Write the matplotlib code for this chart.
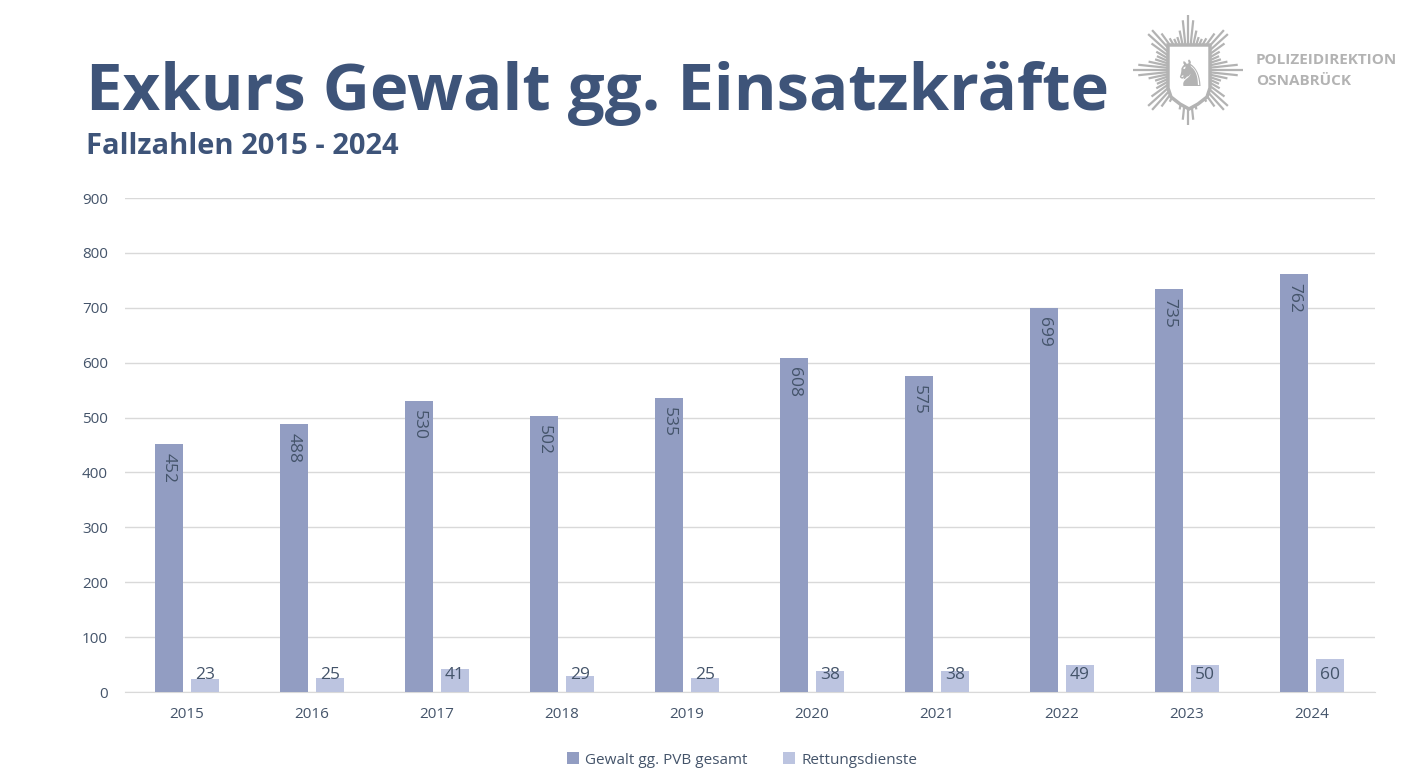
import numpy as np
import matplotlib
matplotlib.use("Agg")
import matplotlib.pyplot as plt
from matplotlib.patches import Polygon

plt.rcParams['font.family'] = ['Open Sans', 'DejaVu Sans']
plt.rcParams['font.stretch'] = 'normal'

# data
jahre = ['2015', '2016', '2017', '2018', '2019', '2020', '2021', '2022', '2023', '2024']
pvb_gesamt = [452, 488, 530, 502, 535, 608, 575, 699, 735, 762]
rettungsdienste = [23, 25, 41, 29, 25, 38, 38, 49, 50, 60]

c_dark = '#929dc2'
c_light = '#bcc4e0'
c_title = '#3e5479'
c_text = '#44546a'
c_grid = '#d9d9d9'
c_logo = '#b3b3b3'

W, H = 1405, 781
fig = plt.figure(figsize=(W / 100, H / 100), dpi=100)

ax = fig.add_axes([124.5 / W, 89 / H, 1250 / W, 494 / H])
x = np.arange(len(jahre))
bw = 0.224
off = 0.144
b1 = ax.bar(x - off, pvb_gesamt, bw, color=c_dark, label='Gewalt gg. PVB gesamt', zorder=3)
b2 = ax.bar(x + off, rettungsdienste, bw, color=c_light, label='Rettungsdienste', zorder=3)

ax.set_xlim(-0.5, len(jahre) - 0.5)
ax.set_ylim(0, 900)
ax.set_yticks(range(0, 901, 100))
ax.set_xticks(x)
ax.set_xticklabels(jahre)
ax.tick_params(length=0, labelsize=11, colors=c_text)
ax.tick_params(axis='y', pad=12)
ax.tick_params(axis='x', pad=11)
ax.grid(axis='y', color=c_grid, lw=1, zorder=0)
for s in ['top', 'right', 'left']:
    ax.spines[s].set_visible(False)
ax.spines['bottom'].set_color(c_grid)

# value labels
for rect, v in zip(b1, pvb_gesamt):
    ax.annotate(str(v), (rect.get_x() + rect.get_width() / 2, v), xytext=(0, -6.5),
                textcoords='offset points', rotation=270, ha='center', va='top',
                fontsize=12.5, color=c_text)
for rect, v in zip(b2, rettungsdienste):
    ax.annotate(str(v), (rect.get_x() + rect.get_width() / 2, 0), xytext=(0, 12),
                textcoords='offset points', ha='center', va='center',
                fontsize=12.5, color=c_text)

fig.legend(handles=[b1, b2], loc='center', bbox_to_anchor=(742 / W, 1 - 760 / H),
           ncol=2, frameon=False, fontsize=11, labelcolor=c_text,
           handlelength=0.8, handleheight=0.8, handletextpad=0.4, columnspacing=2.3)

# titles
fig.text(86 / W, 1 - 93 / H, 'Exkurs Gewalt gg. Einsatzkräfte', fontsize=47,
         fontweight='bold', fontstretch='normal', color=c_title, va='center', ha='left')
fig.text(86 / W, 1 - 146 / H, 'Fallzahlen 2015 - 2024', fontsize=21,
         fontweight='bold', fontstretch='normal', color=c_title, va='center', ha='left')

# logo
lg = fig.add_axes([0, 0, 1, 1], zorder=-1)
lg.set_xlim(0, W)
lg.set_ylim(H, 0)
lg.axis('off')
cx, cy = 1188, 70
for a in np.arange(0, 360, 6):
    t = np.radians(a)
    r = 34 + 21 * abs(np.cos(np.radians(4 * a))) ** 3
    lg.plot([cx, cx + r * np.cos(t)], [cy, cy + r * np.sin(t)], color=c_logo, lw=1.6,
            solid_capstyle='butt')
sx = [1168, 1210, 1210, 1207, 1198, 1189, 1180, 1171, 1168]
sy = [45, 45, 88, 97, 104, 109, 104, 97, 88]
lg.add_patch(Polygon(list(zip(sx, sy)), closed=True, fc='white', ec=c_logo, lw=2.5, zorder=3))
lg.text(1189, 76, '\u265e', fontsize=26, color=c_logo, ha='center', va='center',
        family='DejaVu Sans', zorder=4)
lg.text(1256, 60, 'POLIZEIDIREKTION', fontsize=11, fontweight='bold', color=c_logo,
        va='center', ha='left')
lg.text(1256, 81, 'OSNABRÜCK', fontsize=11, fontweight='bold', color=c_logo,
        va='center', ha='left')

fig.savefig('out.png', dpi=100)
